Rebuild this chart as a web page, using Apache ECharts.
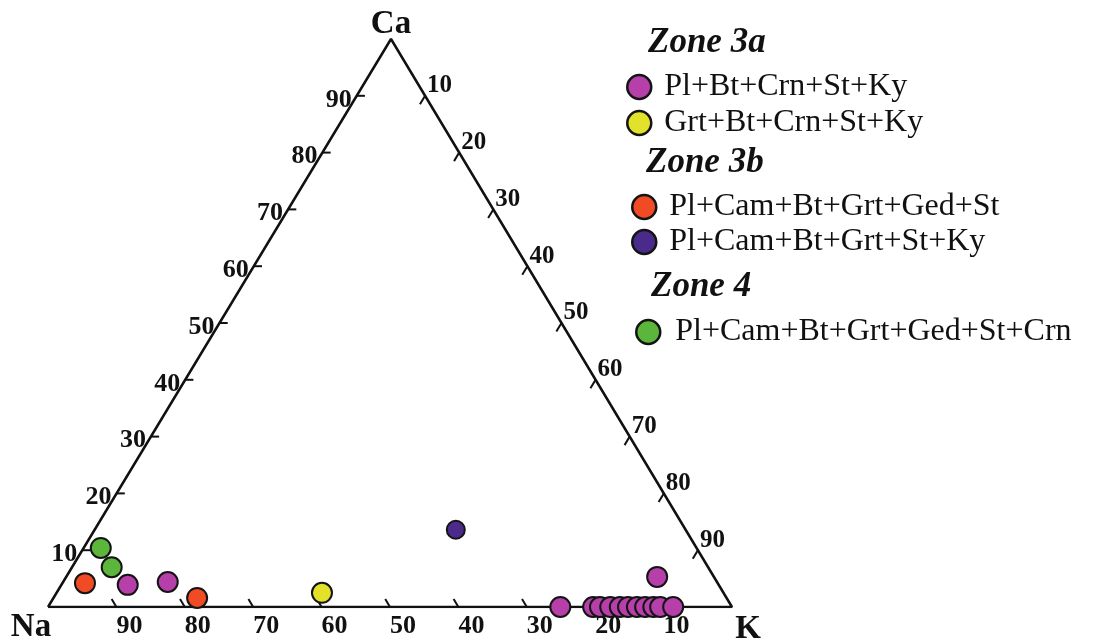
<!DOCTYPE html>
<html>
<head>
<meta charset="utf-8">
<script src="https://cdn.jsdelivr.net/npm/echarts@6/dist/echarts.min.js"></script>
<style>
html,body{margin:0;padding:0;background:#fff;}
#chart{width:1093px;height:643px;}
</style>
</head>
<body>
<div id="chart"></div>
<script>
// ---- data: [Na, Ca, K] in percent ----
const vertexNames = ['Na', 'Ca', 'K'];
const tickValues = [10, 20, 30, 40, 50, 60, 70, 80, 90];
const zoneTitles = ['Zone 3a', 'Zone 3b', 'Zone 4'];
const seriesNames = ['Pl+Bt+Crn+St+Ky', 'Grt+Bt+Crn+St+Ky', 'Pl+Cam+Bt+Grt+Ged+St', 'Pl+Cam+Bt+Grt+St+Ky', 'Pl+Cam+Bt+Grt+Ged+St+Crn'];
const plBtCrnStKy = [
  [86.4, 3.9, 9.7], [80.3, 4.4, 15.3], [8.3, 5.3, 86.4],
  [25.1, 0, 74.9], [20.3, 0, 79.7], [19.3, 0, 80.7], [17.8, 0, 82.2], [16.4, 0, 83.6],
  [15.2, 0, 84.8], [13.9, 0, 86.1], [12.7, 0, 87.3], [11.5, 0, 88.5], [10.5, 0, 89.5], [8.6, 0, 91.4]
];
const grtBtCrnStKy = [[58.7, 2.5, 38.8]];
const plCamBtGrtGedSt = [[92.5, 4.2, 3.3], [77.4, 1.6, 21.0]];
const plCamBtGrtStKy = [[33.6, 13.6, 52.8]];
const plCamBtGrtGedStCrn = [[87.1, 10.4, 2.5], [87.2, 7.0, 5.8]];

// ---- helpers ----
const APEX = 343 / 684; // horizontal position of Ca apex as fraction of base
function toXY(p) {
  const s = p[0] + p[1] + p[2];
  const ca = p[1] / s * 100, k = p[2] / s * 100;
  return [k + ca * APEX, ca];
}
const FONT = 'Liberation Serif, Times New Roman, serif';
const chart = echarts.init(document.getElementById('chart'));

const colors = ['#b63fa9', '#e2e22a', '#f04b24', '#4a2b8c', '#5db63c'];
const groups = [plBtCrnStKy, grtBtCrnStKy, plCamBtGrtGedSt, plCamBtGrtStKy, plCamBtGrtGedStCrn];

// tick data: [x, y, axis, value]
const tickData = [];
[0, 1, 2].forEach(ai => {
  tickValues.forEach(v => tickData.push([0, 0, ai, v]));
});

function tickGeom(ai, v) {
  if (ai === 0) return [[v, 0, 100 - v], [v, 1.4, 100 - v - 1.4]];
  if (ai === 1) return [[100 - v, v, 0], [100 - v - 1.2, v, 1.2]];
  return [[0, 100 - v, v], [1.5, 100 - v - 1.5, v]];
}

const scatterSeries = groups.map((g, i) => ({
  type: 'scatter',
  name: seriesNames[i],
  data: g.map(toXY),
  symbol: 'circle',
  symbolSize: i === 3 ? 18 : 20,
  itemStyle: { color: colors[i], borderColor: '#141414', borderWidth: 2, opacity: 1 },
  z: 5
}));

const legendTops = [83, 119, 203, 238, 328];
const legendLefts = [638, 638, 643, 643, 647];
const legendPad = [8, 8, 8, 8, 10];
const legends = seriesNames.map((n, i) => ({
  data: [n],
  left: legendLefts[i] - 12,
  top: legendTops[i] - 12,
  padding: 0,
  itemWidth: 24,
  itemHeight: 24,
  icon: 'circle',
  selectedMode: false,
  itemStyle: { borderColor: '#141414', borderWidth: 2.5 },
  textStyle: { fontFamily: FONT, fontSize: 32, color: '#111', lineHeight: 24, padding: [0, 0, 0, legendPad[i]] }
}));

const titlePos = [[648, 46], [646, 166], [651, 290]];

chart.setOption({
  animation: false,
  grid: { left: 48, top: 39, width: 684, height: 568 },
  xAxis: { type: 'value', min: 0, max: 100, show: false },
  yAxis: { type: 'value', min: 0, max: 100, show: false },
  legend: legends,
  graphic: zoneTitles.map((t, i) => ({
    type: 'text',
    left: titlePos[i][0],
    top: titlePos[i][1] - 21,
    style: { text: t, font: 'italic bold 35px ' + FONT, fill: '#111', textVerticalAlign: 'top' }
  })),
  series: [
    {
      type: 'line',
      data: [[100, 0, 0], [0, 0, 100], [0, 100, 0], [100, 0, 0]].map(toXY),
      symbol: 'none',
      lineStyle: { color: '#111', width: 2.5 },
      silent: true,
      z: 2
    },
    {
      type: 'custom',
      data: tickData,
      clip: false,
      silent: true,
      z: 3,
      renderItem: function (params, api) {
        const ai = api.value(2), v = api.value(3);
        const g = tickGeom(ai, v);
        const p0 = api.coord(toXY(g[0]));
        const p1 = api.coord(toXY(g[1]));
        let tx, ty, align, valign, fs;
        if (ai === 0) { tx = p0[0] + 0; ty = p0[1] + 6; align = 'left'; valign = 'top'; fs = 26; }
        else if (ai === 1) { tx = p0[0] - 5; ty = p0[1] + 4; align = 'right'; valign = 'middle'; fs = 26; }
        else { tx = p0[0] + 2; ty = p0[1] - 10; align = 'left'; valign = 'middle'; fs = 25; }
        return {
          type: 'group',
          children: [
            { type: 'line', shape: { x1: p0[0], y1: p0[1], x2: p1[0], y2: p1[1] }, style: { stroke: '#111', lineWidth: 2 } },
            { type: 'text', x: tx, y: ty, style: { text: String(v), font: 'bold ' + fs + 'px ' + FONT, fill: '#111', align: align, verticalAlign: valign } }
          ]
        };
      }
    },
    {
      type: 'custom',
      data: [[0, 0, 0], [0, 0, 1], [0, 0, 2]],
      clip: false,
      silent: true,
      z: 3,
      renderItem: function (params, api) {
        const i = api.value(2);
        const vtx = [[100, 0, 0], [0, 100, 0], [0, 0, 100]][i];
        const p = api.coord(toXY(vtx));
        const off = [[-17, 20], [0, -15], [16, 22]][i];
        return { type: 'text', x: p[0] + off[0], y: p[1] + off[1], style: { text: vertexNames[i], font: 'bold 33px ' + FONT, fill: '#111', align: 'center', verticalAlign: 'middle' } };
      }
    }
  ].concat(scatterSeries)
});
</script>
</body>
</html>
